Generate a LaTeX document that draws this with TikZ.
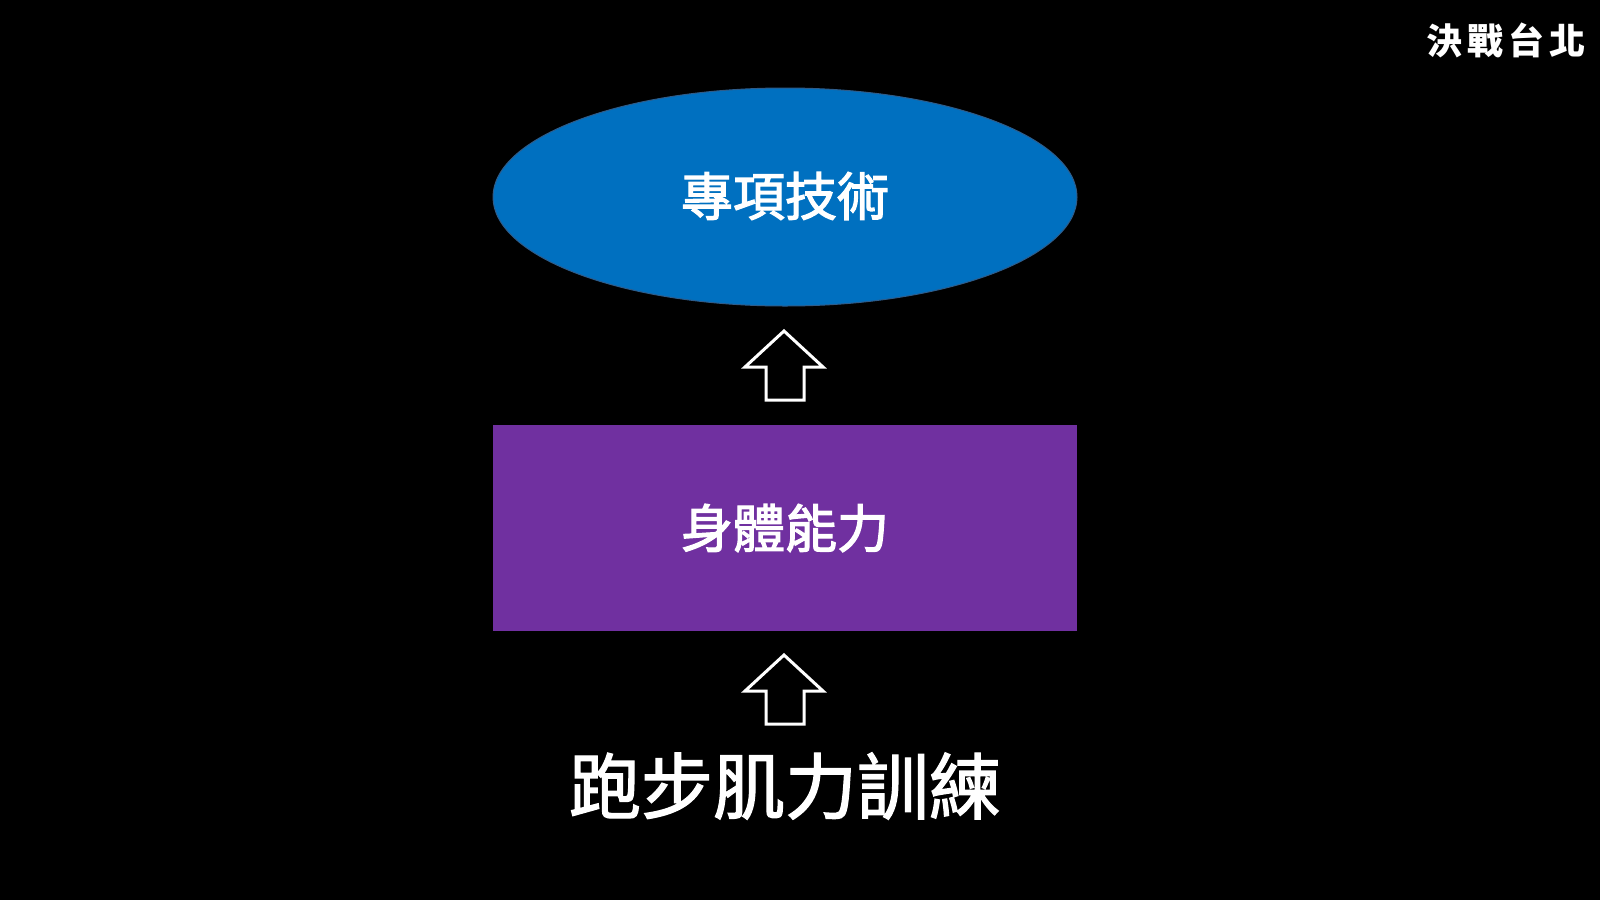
\documentclass[tikz,border=0pt]{standalone}
\usepackage{fontspec}
\newfontfamily\cjk{Noto Sans CJK TC}
\usetikzlibrary{shapes.geometric}
\definecolor{skyblue}{HTML}{0070C0}
\definecolor{skyedge}{HTML}{2E5C8A}
\definecolor{violetbox}{HTML}{7030A0}
\tikzset{
  x=1pt, y=-1pt,
  bigarrow/.style={draw=white, line width=3pt, fill=black, line join=miter},
  lbl/.style={text=white, inner sep=0pt, anchor=center},
}
\begin{document}
\begin{tikzpicture}
\fill[black] (0,0) rectangle (1600,900);
\useasboundingbox (0,0) rectangle (1600,900);
% ellipse
\node[ellipse, fill=skyblue, draw=skyedge, line width=1pt, minimum width=584pt, minimum height=218pt, inner sep=0pt] (skill) at (785,197) {};
\node[lbl, font=\cjk\fontsize{52}{52}\selectfont\addfontfeatures{FakeBold=2.2}] (skilltxt) at (785,196) {專項技術};
% rectangle
\node[rectangle, fill=violetbox, minimum width=584pt, minimum height=206pt, inner sep=0pt] (body) at (785,528) {};
\node[lbl, font=\cjk\fontsize{52}{52}\selectfont\addfontfeatures{FakeBold=2.2}] (bodytxt) at (785,528) {身體能力};
% arrows
\draw[bigarrow] (784,331) -- (823,367) -- (804,367) -- (804,400) -- (766,400) -- (766,367) -- (745,367) -- cycle;
\draw[bigarrow] (784,655) -- (823,691) -- (804,691) -- (804,724) -- (766,724) -- (766,691) -- (745,691) -- cycle;
% bottom text
\node[lbl, font=\cjk\fontsize{72}{72}\selectfont\addfontfeatures{FakeBold=1.8}] (train) at (785,786) {跑步肌力訓練};
% logo
\node[lbl, font=\cjk\bfseries\fontsize{36}{36}\selectfont\addfontfeatures{LetterSpace=14}] (logo) at (1506,40) {決戰台北};
\end{tikzpicture}
\end{document}
